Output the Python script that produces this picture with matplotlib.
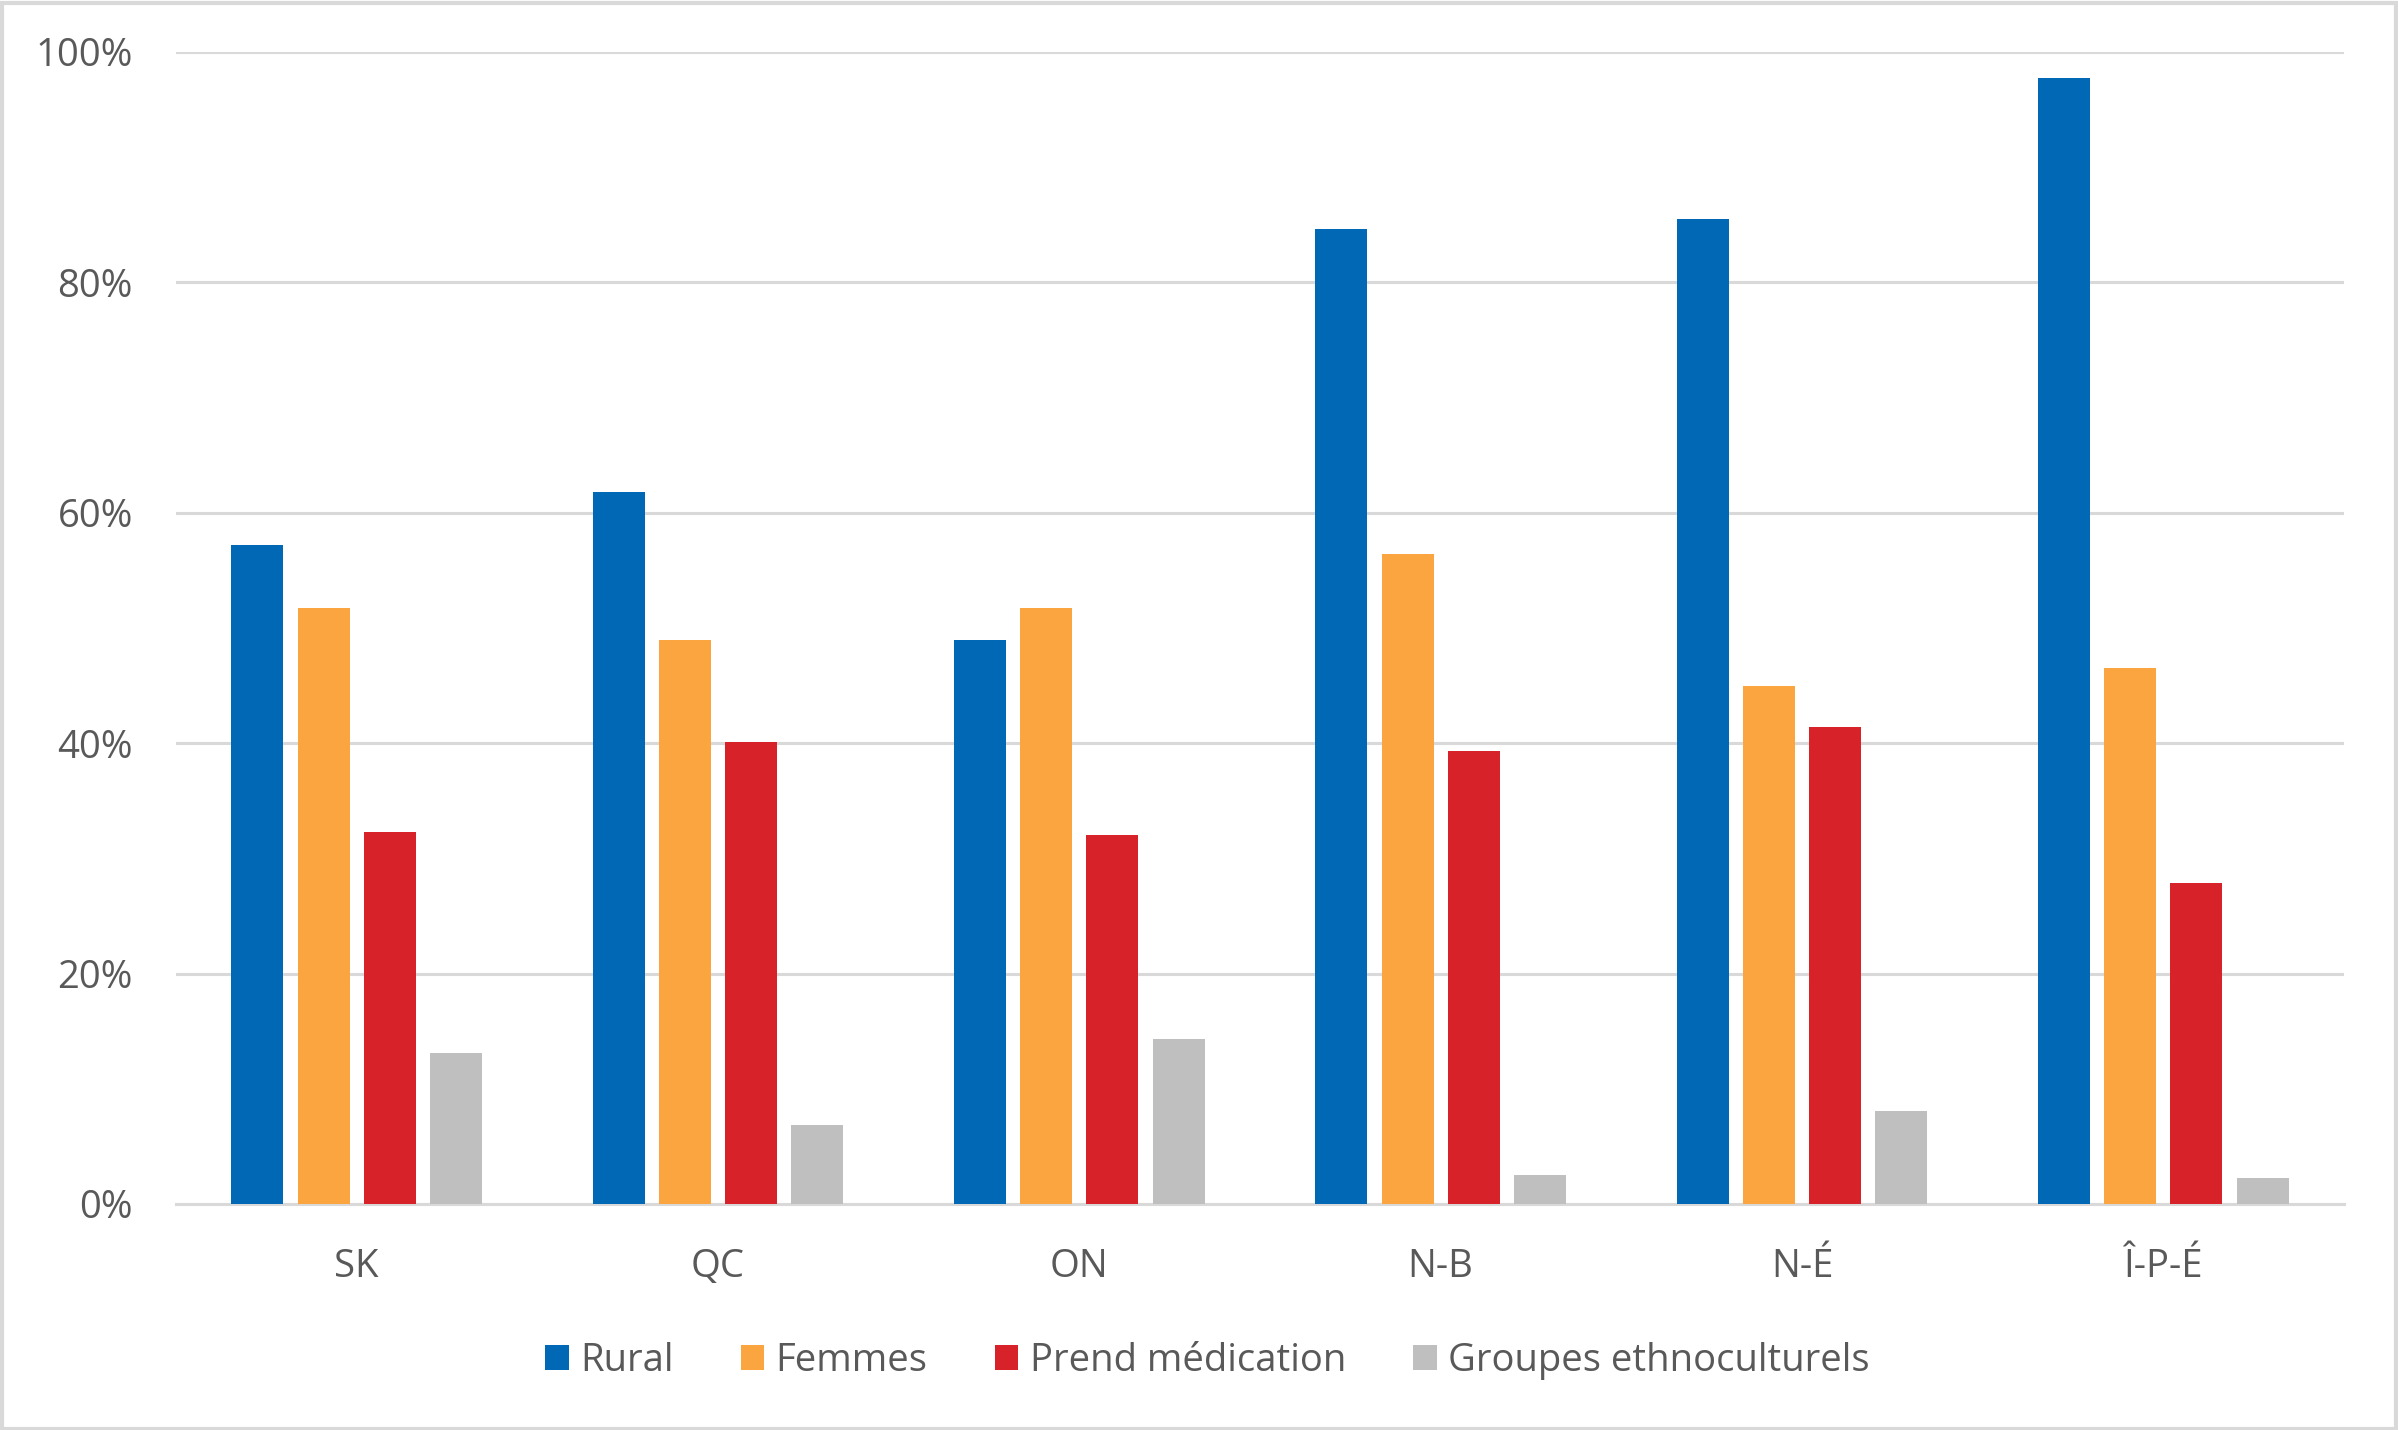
import numpy as np
import matplotlib.pyplot as plt
from matplotlib.patches import Rectangle

# ---------------- donnees ----------------
provinces = ["SK", "QC", "ON", "N-B", "N-É", "Î-P-É"]
rural = [57.2, 61.8, 49.0, 84.6, 85.5, 97.7]
femmes = [51.7, 49.0, 51.7, 56.4, 45.0, 46.5]
medication = [32.3, 40.1, 32.0, 39.3, 41.4, 27.9]
ethno = [13.1, 6.9, 14.3, 2.5, 8.1, 2.3]
series = ["Rural", "Femmes", "Prend médication", "Groupes ethnoculturels"]
couleurs = ["#0068B5", "#FBA541", "#D8222A", "#BFBFBF"]

plt.rcParams['font.family'] = ['Open Sans', 'DejaVu Sans']
gris = "#595959"

W, H = 2398, 1430
fig = plt.figure(figsize=(W / 100, H / 100), dpi=100)
ax = fig.add_axes([176 / W, 1 - 1204 / H, (2344 - 176) / W, (1204 - 52) / H])

x = np.arange(len(provinces))
largeur = 0.144
pas = 0.183
for i, (vals, nom, c) in enumerate(zip([rural, femmes, medication, ethno], series, couleurs)):
    ax.bar(x + (i - 1.5) * pas, vals, width=largeur, color=c, label=nom, zorder=3)

ax.set_xlim(-0.5, len(provinces) - 0.5)
ax.set_ylim(0, 100)
ax.set_yticks(range(0, 101, 20))
ax.set_yticklabels([f"{v}%" for v in range(0, 101, 20)])
ax.set_xticks(x)
ax.set_xticklabels(provinces)
ax.grid(axis='y', color="#D9D9D9", linewidth=2.2, zorder=0)
ax.tick_params(axis='both', length=0, labelsize=27.5, colors=gris)
ax.tick_params(axis='y', pad=31)
ax.tick_params(axis='x', pad=32)
for s in ["top", "right", "left"]:
    ax.spines[s].set_visible(False)
ax.spines["bottom"].set_color("#D9D9D9")
ax.spines["bottom"].set_linewidth(2.2)

leg = fig.legend(loc="center", bbox_to_anchor=(0.5035, 1 - 1361 / H), ncol=4, frameon=False,
                 fontsize=27.5, handlelength=0.62, handleheight=0.62, handletextpad=0.3,
                 columnspacing=1.75)
for t in leg.get_texts():
    t.set_color(gris)

# cadre autour de la figure
fig.patches.append(Rectangle((0.001, 0.001), 0.998, 0.997, transform=fig.transFigure,
                             fill=False, edgecolor="#D9D9D9", linewidth=3))

fig.savefig("out.png", dpi=100, facecolor="white")
